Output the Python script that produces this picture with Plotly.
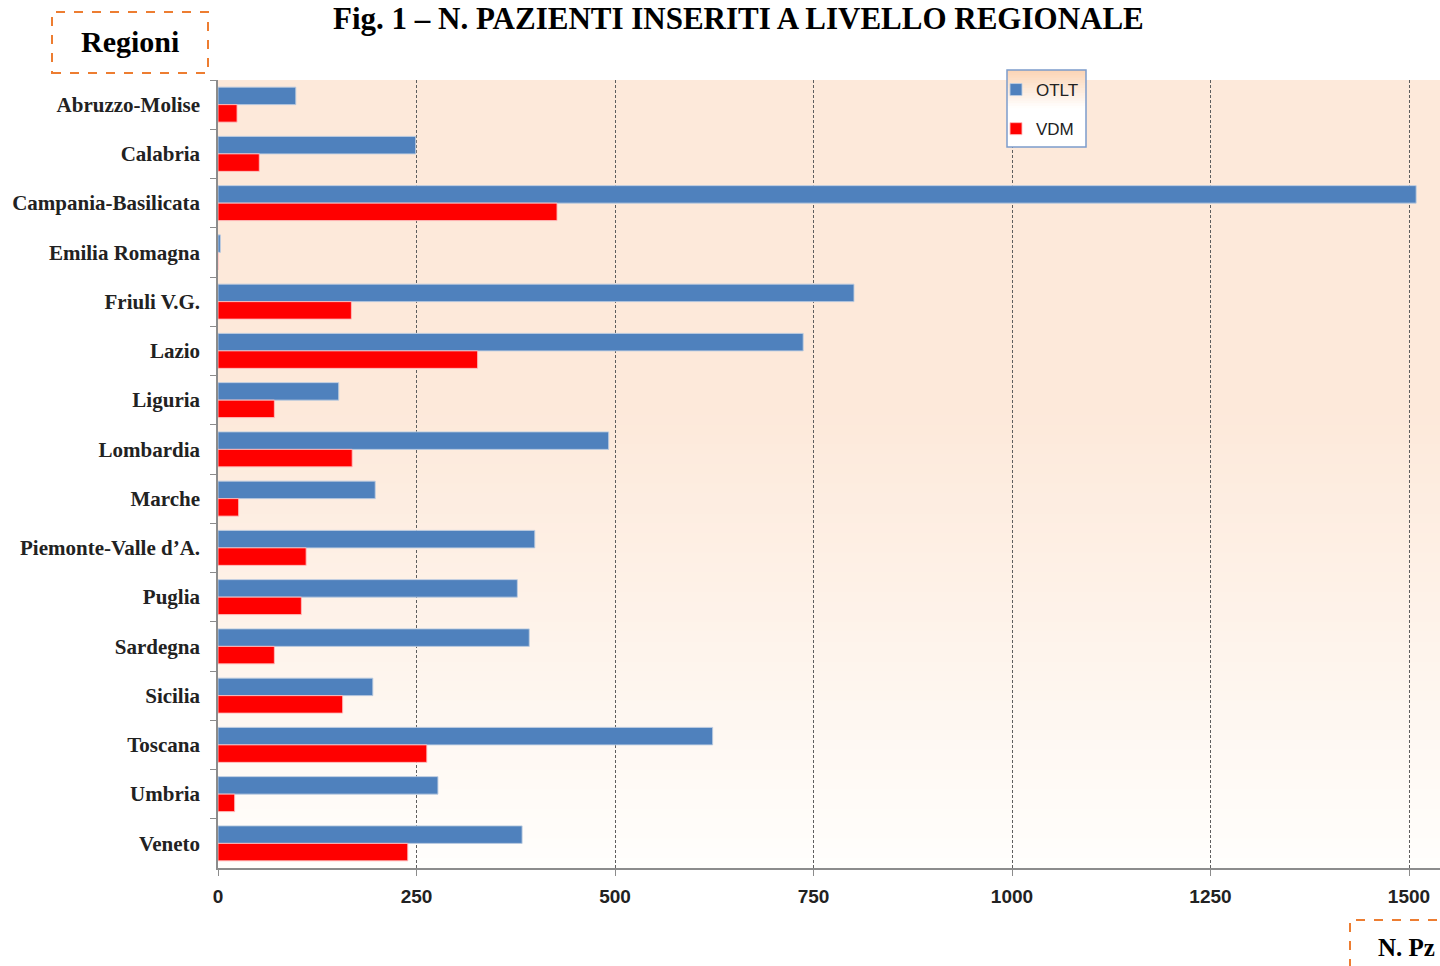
import plotly.graph_objects as go

regions = ["Abruzzo-Molise", "Calabria", "Campania-Basilicata", "Emilia Romagna",
           "Friuli V.G.", "Lazio", "Liguria", "Lombardia", "Marche",
           "Piemonte-Valle d’A.", "Puglia", "Sardegna", "Sicilia", "Toscana",
           "Umbria", "Veneto"]
otlt = [98, 249, 1509, 3, 801, 737, 152, 492, 198, 399, 377, 392, 195, 623, 277, 383]
vdm = [24, 52, 427, 0, 168, 327, 71, 169, 26, 111, 105, 71, 157, 263, 21, 239]
x_ticks = [0, 250, 500, 750, 1000, 1250, 1500]

W, H = 1440, 966
L, R, T, B = 218, 0, 80, 98
PW, PH = W - L - R, H - T - B


def px_x(p):
    return (p - L) / PW


def px_y(p):
    return (H - B - p) / PH


serif = "Liberation Serif"
sans = "Liberation Sans"

fig = go.Figure()
fig.add_trace(go.Bar(y=regions, x=otlt, orientation="h", name="OTLT",
                     legendgroup="a",
                     marker=dict(color="#4F81BD", line=dict(color="rgba(190,205,225,0.9)", width=1))))
fig.add_trace(go.Bar(y=regions, x=vdm, orientation="h", name="VDM",
                     legendgroup="b",
                     marker=dict(color="#FF0000", line=dict(color="rgba(255,190,190,0.9)", width=1))))

shapes = []
# plot-area gradient background (strips overlap slightly to avoid seams)
peach = (253, 233, 218)
white = (255, 254, 252)
n = 80
for i in range(n):
    t = (i + 0.5) / n  # from top
    if t < 0.42:
        f = 0.0
    else:
        f = (t - 0.42) / 0.58
    c = tuple(round(peach[k] + (white[k] - peach[k]) * f) for k in range(3))
    shapes.append(dict(type="rect", xref="paper", yref="paper", x0=0, x1=1,
                       y0=max(0, 1 - (i + 1.6) / n), y1=1 - i / n, layer="below",
                       line=dict(width=0), fillcolor="rgb(%d,%d,%d)" % c))

# legend box with gradient
lx0, lx1, ly0, ly1 = 1007, 1086, 70, 147
m = 30
for i in range(m):
    t = (i + 0.5) / m
    f = min(1.0, t / 0.5)
    c0 = (251, 212, 180)
    c1 = (255, 255, 255)
    c = tuple(round(c0[k] + (c1[k] - c0[k]) * f) for k in range(3))
    ya = ly0 + (ly1 - ly0) * i / m
    yb = min(ly1, ly0 + (ly1 - ly0) * (i + 1.6) / m)
    shapes.append(dict(type="rect", xref="paper", yref="paper",
                       x0=px_x(lx0), x1=px_x(lx1), y0=px_y(yb), y1=px_y(ya),
                       layer="above", line=dict(width=0), fillcolor="rgb(%d,%d,%d)" % c))
shapes.append(dict(type="rect", xref="paper", yref="paper",
                   x0=px_x(lx0), x1=px_x(lx1), y0=px_y(ly1), y1=px_y(ly0),
                   layer="above", line=dict(color="#7C9CCB", width=1.5), fillcolor="rgba(0,0,0,0)"))

# dashed label boxes
shapes.append(dict(type="rect", xref="paper", yref="paper",
                   x0=px_x(52), x1=px_x(208), y0=px_y(73), y1=px_y(12),
                   line=dict(color="#ED7D31", width=2, dash="dash"), fillcolor="rgba(0,0,0,0)"))
shapes.append(dict(type="rect", xref="paper", yref="paper",
                   x0=px_x(1350), x1=px_x(1460), y0=px_y(985), y1=px_y(920),
                   line=dict(color="#ED7D31", width=2, dash="dash"), fillcolor="rgba(0,0,0,0)"))

annotations = [
    dict(text="Fig. 1 – N. PAZIENTI INSERITI A LIVELLO REGIONALE", xref="paper", yref="paper",
         x=px_x(738), y=px_y(-1), xanchor="center", yanchor="top", showarrow=False,
         font=dict(family=serif, size=31, color="#000000", weight="bold")),
    dict(text="Regioni", xref="paper", yref="paper", x=px_x(130), y=px_y(41),
         xanchor="center", yanchor="middle", showarrow=False,
         font=dict(family=serif, size=30, color="#000000", weight="bold")),
    dict(text="N. Pz", xref="paper", yref="paper", x=px_x(1406), y=px_y(947),
         xanchor="center", yanchor="middle", showarrow=False,
         font=dict(family=serif, size=25, color="#000000", weight="bold")),
]

fig.update_layout(
    width=W, height=H,
    margin=dict(l=L, r=R, t=T, b=B, pad=0),
    paper_bgcolor="white", plot_bgcolor="rgba(0,0,0,0)",
    barmode="group", bargap=0.29, bargroupgap=0,
    showlegend=True,
    legend=dict(x=px_x(996), y=px_y(72), xanchor="left", yanchor="top",
                bgcolor="rgba(0,0,0,0)", borderwidth=0, tracegroupgap=14,
                font=dict(family=sans, size=17, color="#222222"), itemwidth=30),
    shapes=shapes,
    annotations=annotations,
    xaxis=dict(range=[0, (W - L - R) / ((1409 - 218) / 1500)], tickvals=x_ticks,
               showgrid=True, gridcolor="#5E5E5E", gridwidth=1, griddash="3px,2px",
               zeroline=False, showline=True, linecolor="#8C8C8C", linewidth=1.5,
               ticks="outside", ticklen=6, tickcolor="#8C8C8C", ticklabelstandoff=4,
               tickfont=dict(family=sans, size=19, color="#222222", weight="bold")),
    yaxis=dict(autorange="reversed", showgrid=False, zeroline=False,
               showline=True, linecolor="#8C8C8C", linewidth=1.5,
               ticks="outside", ticklen=6, tickcolor="#8C8C8C", tickson="boundaries",
               ticklabelstandoff=12,
               tickfont=dict(family=serif, size=21, color="#222222", weight="bold")),
)

fig.write_html("out.html", config={"displayModeBar": False},
               post_script="document.body.style.margin='0';document.body.style.overflow='hidden';")
